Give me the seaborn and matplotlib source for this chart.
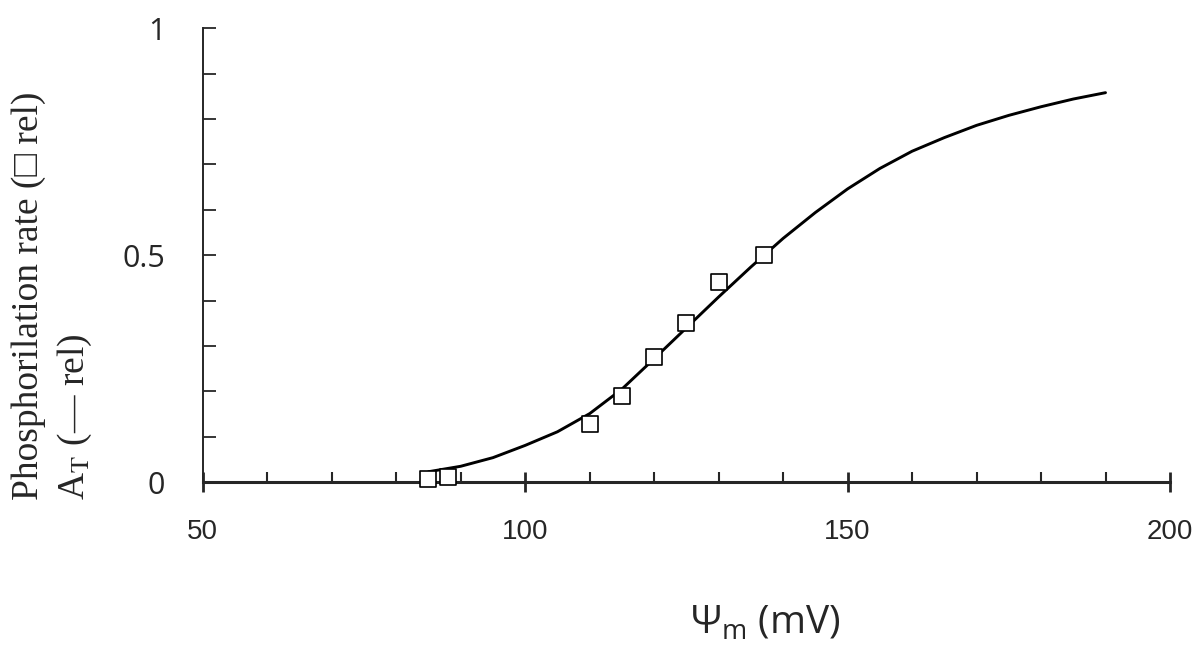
import matplotlib
matplotlib.use("Agg")
import matplotlib.pyplot as plt
import seaborn as sns
import pandas as pd

# measured points (squares)
psi_points = [85, 88, 110, 115, 120, 125, 130, 137]
rate_points = [0.008, 0.012, 0.128, 0.189, 0.275, 0.350, 0.440, 0.500]

# A_T curve
psi_curve = [85, 90, 95, 100, 105, 110, 115, 120, 125, 130, 135,
             140, 145, 150, 155, 160, 165, 170, 175, 180, 185, 190]
at_curve = [0.023, 0.035, 0.054, 0.081, 0.111, 0.151, 0.205, 0.272, 0.340, 0.408, 0.474,
            0.537, 0.594, 0.646, 0.691, 0.729, 0.759, 0.786, 0.808, 0.827, 0.844, 0.858]

x_ticks = [50, 100, 150, 200]
x_tick_labels = ["50", "100", "150", "200"]
x_minor = [60, 70, 80, 90, 110, 120, 130, 140, 160, 170, 180, 190]
y_ticks = [0, 0.5, 1]
y_tick_labels = ["0", "0.5", "1"]
y_minor = [0.1, 0.2, 0.3, 0.4, 0.6, 0.7, 0.8, 0.9]

sns.set_style("ticks")
plt.rcParams["mathtext.fontset"] = "custom"
plt.rcParams["mathtext.rm"] = "Open Sans"
plt.rcParams["mathtext.it"] = "Open Sans"

curve = pd.DataFrame({"psi": psi_curve, "at": at_curve})
pts = pd.DataFrame({"psi": psi_points, "rate": rate_points})

fig = plt.figure(figsize=(12, 6.56), dpi=100)
ax = fig.add_axes([0.169, 0.265, 0.806, 0.692])

sns.lineplot(data=curve, x="psi", y="at", color="black", linewidth=2.1, ax=ax)
sns.scatterplot(data=pts, x="psi", y="rate", marker="s", s=120, facecolor="white",
                edgecolor="black", linewidth=1.2, zorder=3, clip_on=False, ax=ax)

ax.set_xlim(50, 200)
ax.set_ylim(0, 1)
ax.set_xlabel("")
ax.set_ylabel("")

ax.set_xticks(x_ticks, labels=x_tick_labels, fontsize=20,
              fontfamily=["Liberation Sans Narrow", "Liberation Sans", "DejaVu Sans"])
ax.set_xticks(x_minor, minor=True)
ax.set_yticks(y_ticks, labels=y_tick_labels, fontsize=22,
              fontfamily=["Open Sans", "DejaVu Sans"])
ax.set_yticks(y_minor, minor=True)

ax.tick_params(axis="x", which="major", direction="inout", length=15, width=2, pad=19)
ax.tick_params(axis="x", which="minor", direction="in", length=7, width=1.5)
ax.tick_params(axis="y", which="both", direction="in", length=9, width=1.3, pad=27)

for s in ["top", "right"]:
    ax.spines[s].set_visible(False)
ax.spines["bottom"].set_linewidth(2.2)
ax.spines["left"].set_linewidth(1.4)

# y label, two lines, serif
fig.text(0.024, 0.238, "Phosphorilation rate (\u25a1 rel)", rotation=90,
         ha="center", va="bottom", fontsize=27,
         family=["Liberation Serif", "DejaVu Serif"])
fig.text(0.062, 0.238, "A$_{\\mathrm{T}}$ (\u2014 rel)", rotation=90,
         ha="center", va="bottom", fontsize=27, math_fontfamily="stix",
         family=["Liberation Serif", "DejaVu Serif"])

# x label
fig.text(0.6375, 0.05, "$\\mathrm{\u03a8}_{\\mathrm{m}}$ (mV)", ha="center", va="center",
         fontsize=28, family=["Open Sans", "DejaVu Sans"])

fig.savefig("out.png", dpi=100, facecolor="white")
